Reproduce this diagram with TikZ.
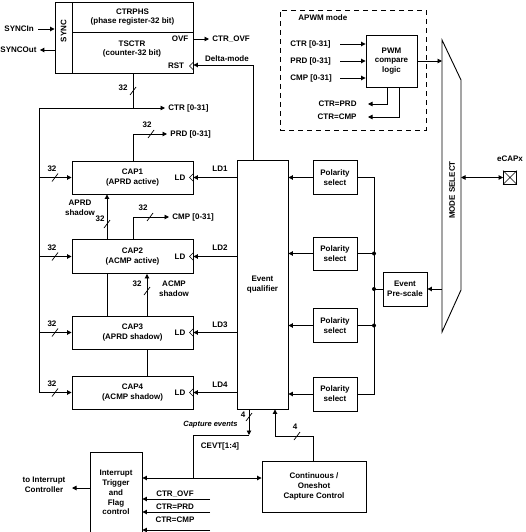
\documentclass[tikz,border=0pt]{standalone}
\usepackage{fontspec}
\setmainfont{Liberation Sans}
\usetikzlibrary{arrows.meta}
\tikzset{
  clk/.pic={\draw[line width=0.6pt] (0,-4) -- (-4,0) -- (0,4);},
  busmark/.pic={\draw[line width=0.7pt] (-3,4) -- (3,-4);}
}
\begin{document}
\begin{tikzpicture}[x=1pt,y=-1pt,
  line width=0.9pt,
  every node/.style={font=\fontsize{8}{9.8}\selectfont\bfseries, inner sep=0pt, align=center},
  box/.style={draw},
  arr/.style={-{Triangle[length=4.5pt,width=4.5pt]}},
  darr/.style={{Triangle[length=4.5pt,width=4.5pt]}-{Triangle[length=4.5pt,width=4.5pt]}},
  dot/.style={fill, circle, minimum size=4pt, inner sep=0pt}
]
\useasboundingbox (0,0) rectangle (525,532);
\clip (0,0) rectangle (525,532);

% ---------- top block ----------
\node[box, minimum width=17pt, minimum height=71pt] (sync) at (63.5,37.5) {};
\node[rotate=90] (synctxt) at (63.5,31) {SYNC};
\node[box, minimum width=121pt, minimum height=30pt] (ctrphs) at (132.5,17) {CTRPHS\\(phase register-32 bit)};
\node[box, minimum width=121pt, minimum height=41pt] (tsctr) at (132.5,52.5) {};
\node (tsctrtxt) at (132,49) {TSCTR\\(counter-32 bit)};
\node (ovf) at (180,39) {OVF};
\node (rst) at (176,66) {RST};
\pic at (tsctr.east |- rst) {clk};

\node[anchor=west] (syncin) at (4,29) {SYNCIn};
\draw[arr] ([xshift=4pt]syncin.east) -- (syncin.east -| sync.west);
\node[anchor=west] (syncout) at (0,50) {SYNCOut};
\draw[arr] (syncout.east -| sync.west) -- ([xshift=3pt]syncout.east);

\node[anchor=west] (ctrovf) at (212,39) {CTR\_OVF};
\draw[arr] (tsctr.east |- ovf) -- ([xshift=-3pt]ctrovf.west);

% ---------- event qualifier ----------
\node[box, minimum width=51pt, minimum height=249pt] (eq) at (262.5,284.5) {Event\\qualifier};

% Delta-mode
\coordinate (dm) at (253,65);
\draw[arr] (dm |- eq.north) -- (dm) -- (dm -| tsctr.east);
\node (dmlbl) at (227,59) {Delta-mode};

% CTR bus
\coordinate (j1) at (133,108);
\coordinate (bltop) at (39,108);
\node[anchor=west] (ctr031) at (168,108) {CTR [0-31]};
\draw (tsctr.south -| j1) -- (j1);
\draw[arr] (bltop) -- ([xshift=-3pt]ctr031.west);
\pic at (133,91) {busmark};
\node (n32a) at (123,88) {32};

% ---------- capture registers ----------
\node[box, minimum width=121pt, minimum height=33pt] (cap1) at (132.5,177.5) {CAP1\\(APRD active)};
\node[box, minimum width=121pt, minimum height=34pt] (cap2) at (132.5,256.5) {CAP2\\(ACMP active)};
\node[box, minimum width=121pt, minimum height=33pt] (cap3) at (132.5,332.5) {CAP3\\(APRD shadow)};
\node[box, minimum width=121pt, minimum height=33pt] (cap4) at (132.5,392.5) {CAP4\\(ACMP shadow)};

\node (ld1in) at (180,177.5) {LD};
\node (ld2in) at (180,256.5) {LD};
\node (ld3in) at (180,332.5) {LD};
\node (ld4in) at (180,392.5) {LD};
\foreach \c in {cap1,cap2,cap3,cap4} {\pic at (\c.east) {clk};}

% left bus into CAP inputs
\draw[arr] (bltop) -- (bltop |- cap4.west) -- (cap4.west);
\draw[arr] (bltop |- cap1.west) -- (cap1.west);
\draw[arr] (bltop |- cap2.west) -- (cap2.west);
\draw[arr] (bltop |- cap3.west) -- (cap3.west);
\foreach \y/\n in {177.5/b1,256.5/b2,332.5/b3,392.5/b4} {
  \pic at (55,\y) {busmark};
  \node (n32\n) at (52,\y-9) {32};
}

% PRD branch
\coordinate (prdup) at (133,134);
\node[anchor=west] (prd031) at (170,134) {PRD [0-31]};
\draw[arr] (cap1.north -| prdup) -- (prdup) -- ([xshift=-3pt]prd031.west);
\pic at (151,134) {busmark};
\node (n32p) at (147,125) {32};

% CMP branch
\coordinate (cmpup) at (133,217);
\node[anchor=west] (cmp031) at (172,217) {CMP [0-31]};
\draw[arr] (cap2.north -| cmpup) -- (cmpup) -- ([xshift=-3pt]cmp031.west);
\pic at (150,217) {busmark};
\node (n32c) at (143,208) {32};

% APRD shadow
\coordinate (ax) at (107,0);
\draw (cap3.north -| ax) -- (cap2.south -| ax);
\draw[arr] (cap2.north -| ax) -- (cap1.south -| ax);
\pic at (107,224) {busmark};
\node (n32s1) at (100,219) {32};
\node (aprdsh) at (80,208) {APRD\\shadow};

% ACMP shadow
\coordinate (cx) at (147,0);
\draw (cap4.north -| cx) -- (cap3.south -| cx);
\draw[arr] (cap3.north -| cx) -- (cap2.south -| cx);
\pic at (147,291) {busmark};
\node (n32s2) at (137,284) {32};
\node (acmpsh) at (174,289) {ACMP\\shadow};

% LD lines
\draw[arr] (cap1.east -| eq.west) -- (cap1.east);
\draw[arr] (cap2.east -| eq.west) -- (cap2.east);
\draw[arr] (cap3.east -| eq.west) -- (cap3.east);
\draw[arr] (cap4.east -| eq.west) -- (cap4.east);
\node (ld1) at (220,169) {LD1};
\node (ld2) at (220,248) {LD2};
\node (ld3) at (220,325) {LD3};
\node (ld4) at (220,385) {LD4};

% ---------- polarity selects ----------
\node[box, minimum width=44pt, minimum height=34pt] (pol1) at (335,177.5) {Polarity\\select};
\node[box, minimum width=44pt, minimum height=33pt] (pol2) at (335,253.5) {Polarity\\select};
\node[box, minimum width=44pt, minimum height=34pt] (pol3) at (335,325.5) {Polarity\\select};
\node[box, minimum width=44pt, minimum height=34pt] (pol4) at (335,394) {Polarity\\select};
\foreach \p in {pol1,pol2,pol3,pol4} {\draw[arr] (\p.west) -- (\p.west -| eq.east);}

\node[box, minimum width=44pt, minimum height=34pt] (pre) at (405,289) {Event\\Pre-scale};

\coordinate (pb) at (374,0);
\draw (pol1.east) -- (pol1.east -| pb) -- (pol4.east -| pb) -- (pol4.east);
\draw (pol2.east) -- (pol2.east -| pb) node[dot] (d2) {};
\draw (pol3.east) -- (pol3.east -| pb) node[dot] (d3) {};
\draw (pre.west) -- (pre.west -| pb) node[dot] (d4) {};

% ---------- mode select ----------
\coordinate (m1) at (442,40);
\coordinate (m2) at (461,80);
\coordinate (m3) at (461,290);
\coordinate (m4) at (442,332);
\draw (m1) -- (m2) -- (m3) -- (m4) -- cycle;
\node[rotate=90] (mstxt) at (452,190) {MODE SELECT};
\draw[arr] (m1 |- pre.east) -- (pre.east);

\node[draw, minimum width=13pt, minimum height=13pt] (ecap) at (510,177.5) {};
\draw[line width=0.6pt] (ecap.north west) -- (ecap.south east) (ecap.north east) -- (ecap.south west);
\draw[darr] (m2 |- ecap.west) -- (ecap.west);
\node (ecaplbl) at (510,159) {eCAPx};

% ---------- APWM ----------
\node[draw, dash pattern=on 5pt off 4pt, minimum width=146pt, minimum height=120pt] (apwm) at (353,70) {};
\node[anchor=west] (apwmlbl) at (298,18) {APWM mode};
\node[box, minimum width=51pt, minimum height=52pt] (pwm) at (391.5,61) {PWM\\compare\\logic};
\draw[arr] (pwm.east) -- (pwm.east -| m1);

\coordinate (ain) at (340,0);
\node[anchor=west] (actr) at (290,44) {CTR [0-31]};
\node[anchor=west] (aprd) at (290,61) {PRD [0-31]};
\node[anchor=west] (acmp) at (290,78) {CMP [0-31]};
\draw[arr] (actr.east -| ain) -- (actr.east -| pwm.west);
\draw[arr] (aprd.east -| ain) -- (aprd.east -| pwm.west);
\draw[arr] (acmp.east -| ain) -- (acmp.east -| pwm.west);

\coordinate (o1) at (387,104);
\coordinate (o2) at (399,117);
\node[anchor=east] (oprd) at (357,104) {CTR=PRD};
\node[anchor=east] (ocmp) at (357,117) {CTR=CMP};
\draw[arr] (pwm.south -| o1) -- (o1) -- ([xshift=11pt]oprd.east);
\draw[arr] (pwm.south -| o2) -- (o2) -- ([xshift=11pt]ocmp.east);

% ---------- bottom ----------
\coordinate (ce) at (249,435);
\coordinate (cj) at (193,478);
\draw[arr] (eq.south -| ce) -- (ce);
\draw (ce) -- (ce -| cj) -- (cj);
\pic at (249,417) {busmark};
\node (n4a) at (243,415) {4};
\node[anchor=east, font=\fontsize{7.5}{9}\selectfont\bfseries\itshape] (celbl) at (238,425) {Capture events};
\node (cevt) at (220,446) {CEVT[1:4]};

\node[draw, minimum width=52pt, minimum height=93pt] (intr) at (116,498.5) {};
\node (intrtxt) at (116,492.5) {Interrupt\\Trigger\\and\\Flag\\control};
\node[box, minimum width=104pt, minimum height=51pt] (cont) at (314,486.5) {Continuous /\\Oneshot\\Capture Control};

\draw[darr] (intr.east |- cj) -- (cj -| cont.west);

\coordinate (cu) at (313,436);
\coordinate (cq) at (275,436);
\draw[arr] (cont.north -| cu) -- (cu) -- (cq) -- (cq |- eq.south);
\pic at (297,436) {busmark};
\node (n4b) at (295,427) {4};

\node (toic) at (44,485) {to Interrupt\\Controller};
\coordinate (ic) at (72,488);
\draw[arr] (intr.west |- ic) -- (ic);

\coordinate (l1) at (210,499);
\coordinate (l2) at (210,512);
\coordinate (l3) at (210,530);
\draw[arr] (l1) -- (l1 -| intr.east);
\draw[arr] (l2) -- (l2 -| intr.east);
\draw[arr] (l3) -- (l3 -| intr.east);
\node (bovf) at (175,494) {CTR\_OVF};
\node (bprd) at (175,507) {CTR=PRD};
\node (bcmp) at (175,520) {CTR=CMP};
\end{tikzpicture}
\end{document}
